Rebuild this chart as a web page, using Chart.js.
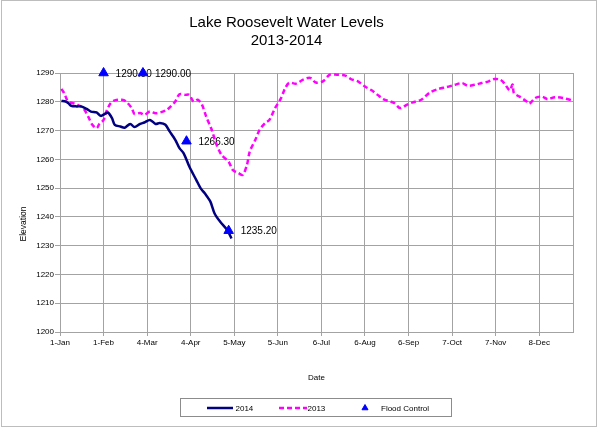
<!DOCTYPE html>
<html>
<head>
<meta charset="utf-8">
<title>Lake Roosevelt Water Levels</title>
<script src="https://cdn.jsdelivr.net/npm/chart.js@4.4.1/dist/chart.umd.min.js"></script>
<style>
    html, body { margin: 0; padding: 0; background: #fff; }
    #wrap { width: 600px; height: 428px; }
</style>
</head>
<body>
<div id="wrap"><canvas id="levels" width="600" height="428"></canvas></div>
<script>
// x values are day of year, 0 = 1-Jan
const tickDays = [0, 31, 62, 93, 124, 155, 186, 217, 248, 279, 310, 341];
const tickLabels = ['1-Jan', '1-Feb', '4-Mar', '4-Apr', '5-May', '5-Jun', '6-Jul', '6-Aug', '6-Sep', '7-Oct', '7-Nov', '8-Dec'];

const days2014 = [1, 4, 6, 8, 12, 15, 19, 22, 26, 29, 32, 34, 37, 39, 43, 46, 50, 53, 57, 60, 64, 68, 71, 75, 78, 82, 85, 88, 92, 97, 100, 103, 107, 110, 114, 119, 122];
const levels2014 = [1280.3, 1280.1, 1279.5, 1278.6, 1278.4, 1278.4, 1277.5, 1276.6, 1276.3, 1275.1, 1275.8, 1276.3, 1274.3, 1272.0, 1271.4, 1271.0, 1272.3, 1271.2, 1272.3, 1272.8, 1273.7, 1272.3, 1272.6, 1272.0, 1269.7, 1266.8, 1263.9, 1262.1, 1257.5, 1252.8, 1250.0, 1248.2, 1245.3, 1241.2, 1238.3, 1235.4, 1232.5];

const days2013 = [1, 3, 5, 7, 11, 14, 17, 20, 23, 26, 28, 31, 33, 36, 39, 44, 47, 51, 53, 57, 60, 64, 68, 72, 76, 79, 82, 85, 89, 92, 95, 98, 101, 104, 108, 111, 115, 120, 123, 127, 130, 133, 135, 139, 142, 146, 149, 153, 157, 160, 163, 168, 173, 178, 182, 187, 192, 197, 203, 207, 212, 217, 222, 226, 230, 235, 238, 242, 247, 251, 257, 263, 269, 275, 281, 286, 290, 295, 300, 305, 309, 313, 316, 320, 322, 323, 327, 332, 334, 338, 343, 347, 352, 358, 364];
const levels2013 = [1284.5, 1283.0, 1280.7, 1279.8, 1279.3, 1278.6, 1277.5, 1274.9, 1272.0, 1270.8, 1272.3, 1273.7, 1276.6, 1279.5, 1280.5, 1280.7, 1280.1, 1277.8, 1275.8, 1276.1, 1275.5, 1276.6, 1276.0, 1276.4, 1277.2, 1278.5, 1280.1, 1282.6, 1282.4, 1282.4, 1280.1, 1280.7, 1279.0, 1274.9, 1270.2, 1265.6, 1261.5, 1259.2, 1256.3, 1255.2, 1254.6, 1258.0, 1262.7, 1266.8, 1270.2, 1272.6, 1273.7, 1277.8, 1281.0, 1284.5, 1286.6, 1286.3, 1287.7, 1288.3, 1286.7, 1287.1, 1289.4, 1289.4, 1289.1, 1287.9, 1287.1, 1285.3, 1283.9, 1282.4, 1280.9, 1280.1, 1279.5, 1277.8, 1279.0, 1279.8, 1280.7, 1283.2, 1284.4, 1285.1, 1285.9, 1286.5, 1285.6, 1285.9, 1286.5, 1287.1, 1287.9, 1287.7, 1286.5, 1284.0, 1286.0, 1283.0, 1281.8, 1280.1, 1279.3, 1281.3, 1281.8, 1280.9, 1281.6, 1281.3, 1280.5];

const floodDays = [31, 59, 90, 120];
const floodLevels = [1290, 1290, 1266.3, 1235.2];
const floodLabels = ['1290.00', '1290.00', '1266.30', '1235.20'];

const FONT = 'Arial, "Liberation Sans", sans-serif';
const GRID = '#a3a3a3';

const toPoints = (xs, ys) => xs.map((x, i) => ({ x, y: ys[i] }));

// Value labels next to the flood control markers
const floodLabelPlugin = {
    id: 'floodLabels',
    beforeDatasetsDraw(chart) {
        const meta = chart.getDatasetMeta(0);
        const ctx = chart.ctx;
        ctx.save();
        ctx.font = '10px ' + FONT;
        ctx.fillStyle = '#000';
        ctx.textAlign = 'left';
        ctx.textBaseline = 'middle';
        meta.data.forEach((pt, i) => {
            ctx.fillText(floodLabels[i], pt.x + 12, pt.y + 1);
        });
        ctx.restore();
    },
};

// Outer frame, right plot edge, rotated y title and boxed legend
const decorPlugin = {
    id: 'decor',
    beforeDatasetsDraw(chart) {
        const { ctx, chartArea } = chart;
        ctx.save();
        ctx.strokeStyle = GRID;
        ctx.lineWidth = 1;
        ctx.beginPath();
        ctx.moveTo(Math.round(chartArea.right) + 0.5, chartArea.top);
        ctx.lineTo(Math.round(chartArea.right) + 0.5, chartArea.bottom);
        ctx.stroke();
        ctx.restore();
    },
    afterDraw(chart) {
        const ctx = chart.ctx;

        ctx.save();
        ctx.strokeStyle = '#bdbdbd';
        ctx.lineWidth = 1;
        ctx.strokeRect(1.5, 0.5, 595, 426);
        ctx.restore();

        ctx.save();
        ctx.translate(24, 224);
        ctx.rotate(-Math.PI / 2);
        ctx.font = '8.5px ' + FONT;
        ctx.fillStyle = '#000';
        ctx.textAlign = 'center';
        ctx.textBaseline = 'middle';
        ctx.fillText('Elevation', 0, 0);
        ctx.restore();

        // legend
        ctx.save();
        const y = 408;
        ctx.strokeStyle = '#8c8c8c';
        ctx.lineWidth = 1;
        ctx.strokeRect(180.5, 398.5, 271, 18);
        ctx.font = '8px ' + FONT;
        ctx.textAlign = 'left';
        ctx.textBaseline = 'middle';

        const s2014 = chart.data.datasets[1];
        ctx.strokeStyle = s2014.borderColor;
        ctx.lineWidth = s2014.borderWidth;
        ctx.beginPath();
        ctx.moveTo(207, y);
        ctx.lineTo(233, y);
        ctx.stroke();
        ctx.fillStyle = '#000';
        ctx.fillText(s2014.label, 235.5, y + 0.5);

        const s2013 = chart.data.datasets[2];
        ctx.strokeStyle = s2013.borderColor;
        ctx.lineWidth = s2013.borderWidth;
        ctx.setLineDash(s2013.borderDash);
        ctx.beginPath();
        ctx.moveTo(279, y);
        ctx.lineTo(307, y);
        ctx.stroke();
        ctx.setLineDash([]);
        ctx.fillText(s2013.label, 307.5, y + 0.5);

        const flood = chart.data.datasets[0];
        ctx.fillStyle = flood.pointBackgroundColor;
        ctx.strokeStyle = flood.pointBorderColor;
        ctx.lineWidth = 1;
        Chart.helpers.drawPoint(ctx, {
            pointStyle: 'triangle', radius: 3.5, borderWidth: 1, rotation: 0,
        }, 365, y);
        ctx.fillStyle = '#000';
        ctx.fillText(flood.label, 381, y + 0.5);
        ctx.restore();
    },
};

const chart = new Chart(document.getElementById('levels'), {
    type: 'line',
    data: {
        datasets: [
            {
                label: 'Flood Control',
                data: toPoints(floodDays, floodLevels),
                showLine: false,
                clip: false,
                pointStyle: 'triangle',
                pointRadius: 5.5,
                pointBackgroundColor: '#0000ff',
                pointBorderColor: '#0000ff',
                pointBorderWidth: 1,
                order: 0,
            },
            {
                label: '2014',
                data: toPoints(days2014, levels2014),
                borderColor: '#000080',
                borderWidth: 2.5,
                pointRadius: 0,
                tension: 0.3,
                order: 1,
            },
            {
                label: '2013',
                data: toPoints(days2013, levels2013),
                borderColor: '#ff00ff',
                borderWidth: 2.5,
                borderDash: [5, 3],
                pointRadius: 0,
                tension: 0.3,
                order: 2,
            },
        ],
    },
    options: {
        responsive: false,
        animation: false,
        events: [],
        layout: { padding: { left: 0, right: 27, top: 0, bottom: 0 } },
        plugins: {
            legend: { display: false },
            tooltip: { enabled: false },
            title: {
                display: true,
                text: ['Lake Roosevelt Water Levels', '2013-2014'],
                color: '#000',
                font: { family: FONT, size: 15, weight: 'normal', lineHeight: 1.2 },
                padding: { top: 14, bottom: 23 },
            },
        },
        scales: {
            x: {
                type: 'linear',
                min: 0,
                max: 365,
                afterBuildTicks: (scale) => {
                    scale.ticks = tickDays.map((v) => ({ value: v }));
                },
                afterFit: (scale) => { scale.height = 96; },
                ticks: {
                    autoSkip: false,
                    maxRotation: 0,
                    padding: 2,
                    color: '#000',
                    font: { family: FONT, size: 8 },
                    callback: (v, i) => tickLabels[i],
                },
                grid: { color: GRID, lineWidth: 1, tickLength: 4 },
                border: { color: GRID },
                title: {
                    display: true,
                    text: 'Date',
                    color: '#000',
                    font: { family: FONT, size: 8, lineHeight: 1.2 },
                    padding: { top: 0, bottom: 45.5 },
                },
            },
            y: {
                min: 1200,
                max: 1290,
                afterFit: (scale) => { scale.width = 60; },
                ticks: {
                    stepSize: 10,
                    padding: 1,
                    color: '#000',
                    font: { family: FONT, size: 8 },
                    callback: (v) => String(v),
                },
                grid: { color: GRID, lineWidth: 1, tickLength: 5 },
                border: { color: GRID },
            },
        },
    },
    plugins: [floodLabelPlugin, decorPlugin],
});
</script>
</body>
</html>
